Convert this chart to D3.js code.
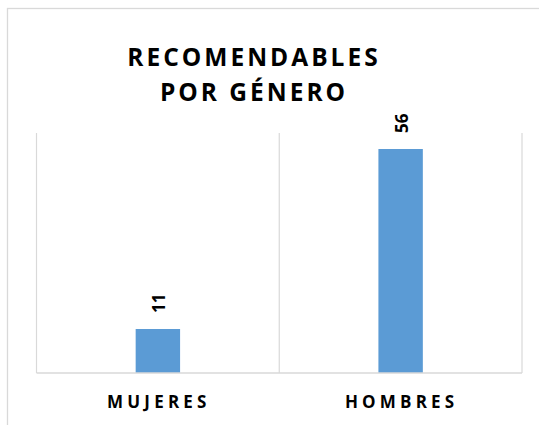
<!DOCTYPE html>
<html>
<head>
<meta charset="utf-8">
<script src="https://cdn.jsdelivr.net/npm/d3@7"></script>
<style>
  body { margin: 0; background: #fff; }
  text { font-family: "Open Sans", sans-serif; font-weight: 700; fill: #000; }
</style>
</head>
<body>
<div id="chart"></div>
<script>
const categories = ["MUJERES", "HOMBRES"]
const values = [11, 56]
const titleLines = ["RECOMENDABLES", "POR GÉNERO"]

const width = 539
const height = 425
const margin = {top: 133, right: 17, bottom: 52, left: 36.5}

const svg = d3.select("#chart")
    .append("svg")
    .attr("width", width)
    .attr("height", height)

// chart frame, cut by the picture edge on right and bottom
svg.append("rect")
    .attr("x", 7.5)
    .attr("y", 8.5)
    .attr("width", width + 20)
    .attr("height", height + 20)
    .attr("fill", "none")
    .attr("stroke", "#d9d9d9")
    .attr("stroke-width", 1.3)

const x = d3.scaleBand()
    .domain(categories)
    .range([margin.left, width - margin.right])

const y = d3.scaleLinear()
    .domain([0, 60])
    .range([height - margin.bottom, margin.top])

// vertical gridlines between categories
const edges = categories.map(c => x(c)).concat([x.range()[1]])
svg.selectAll(".grid")
    .data(edges)
    .enter().append("line")
    .attr("class", "grid")
    .attr("x1", d => d).attr("x2", d => d)
    .attr("y1", y(60)).attr("y2", y(0))
    .attr("stroke", "#d9d9d9")
    .attr("stroke-width", 1.2)

const barW = x.bandwidth() * 0.183

svg.selectAll(".bar")
    .data(values)
    .enter().append("rect")
    .attr("class", "bar")
    .attr("x", (d, i) => x(categories[i]) + x.bandwidth() / 2 - barW / 2)
    .attr("y", d => y(d))
    .attr("width", barW)
    .attr("height", d => y(0) - y(d))
    .attr("fill", "#5b9bd5")

// baseline
svg.append("line")
    .attr("x1", x.range()[0]).attr("x2", x.range()[1])
    .attr("y1", y(0)).attr("y2", y(0))
    .attr("stroke", "#d9d9d9")
    .attr("stroke-width", 1.3)

// value labels, rotated
svg.selectAll(".val")
    .data(values)
    .enter().append("text")
    .attr("class", "val")
    .attr("transform", (d, i) => `translate(${x(categories[i]) + x.bandwidth() / 2 + 7.5},${y(d) - 16}) rotate(-90)`)
    .attr("font-size", 17)
    .text(d => d)

// category labels
svg.selectAll(".cat")
    .data(categories)
    .enter().append("text")
    .attr("class", "cat")
    .attr("x", d => x(d) + x.bandwidth() / 2 + 1)
    .attr("y", 408)
    .attr("text-anchor", "middle")
    .attr("font-size", 17)
    .attr("letter-spacing", 4.2)
    .text(d => d)

// title
svg.selectAll(".title")
    .data(titleLines)
    .enter().append("text")
    .attr("class", "title")
    .attr("x", 254)
    .attr("y", (d, i) => 66 + i * 35)
    .attr("text-anchor", "middle")
    .attr("font-size", 24.5)
    .attr("letter-spacing", 3)
    .text(d => d)
</script>
</body>
</html>
